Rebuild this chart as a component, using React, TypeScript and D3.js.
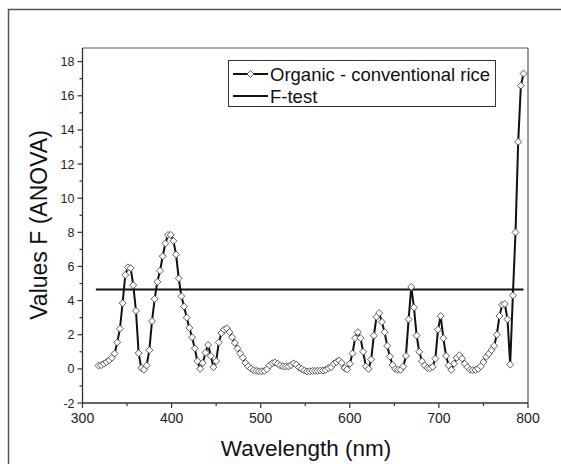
import React from "react";
import * as d3 from "d3";

const startWavelength = 318;
const stepWavelength = 3;
const fValues: number[] = [
  0.19, 0.22, 0.3, 0.4, 0.5, 0.65, 0.9, 1.55, 2.35, 3.85,
  5.5, 5.95, 5.9, 4.9, 3.4, 0.92, 0.05, -0.05, 0.2, 1.1,
  2.8, 4.1, 5.1, 5.75, 6.6, 7.35, 7.85, 7.85, 7.5, 6.7,
  5.3, 4.25, 3.65, 3.0, 2.4, 1.85, 1.2, 0.45, 0.0, 0.35,
  0.95, 1.4, 0.75, 0.1, 0.45, 1.55, 2.1, 2.3, 2.38, 2.15,
  1.85, 1.52, 1.2, 0.9, 0.65, 0.35, 0.15, 0.02, -0.08, -0.12,
  -0.14, -0.14, -0.12, -0.02, 0.2, 0.33, 0.37, 0.3, 0.2, 0.15,
  0.14, 0.15, 0.22, 0.32, 0.25, 0.08, 0.0, -0.1, -0.15, -0.14,
  -0.12, -0.12, -0.11, -0.1, -0.1, -0.06, 0.04, 0.1, 0.3, 0.4,
  0.49, 0.35, 0.05, -0.03, 0.3, 0.9, 1.8, 2.15, 1.8, 1.0,
  0.15, 0.0, 0.55, 1.95, 3.05, 3.27, 2.75, 2.15, 1.35, 0.72,
  0.23, 0.0, -0.05, -0.05, 0.14, 0.76, 2.9, 4.8, 3.6, 1.95,
  1.0, 0.45, 0.2, 0.05, 0.04, 0.12, 0.6, 2.3, 3.1, 1.8,
  0.76, 0.2, -0.05, 0.3, 0.65, 0.8, 0.6, 0.3, 0.1, -0.05,
  -0.07, -0.06, 0.0, 0.15, 0.4, 0.7, 0.88, 1.1, 1.35, 2.0,
  3.1, 3.75, 3.8, 2.9, 0.25, 4.3, 8.0, 13.3, 16.6, 17.3,
];
const fTestValue = 4.65;
const fTestRange = [315, 795];
const xTicks = [300, 400, 500, 600, 700, 800];
const yTicks = [-2, 0, 2, 4, 6, 8, 10, 12, 14, 16, 18];
const seriesName = "Organic - conventional rice";
const fTestName = "F-test";

export default function App() {
  const W = 561, H = 464;
  const x = d3.scaleLinear().domain([300, 800]).range([82.5, 528]);
  const y = d3.scaleLinear().domain([-2, 18.8]).range([403, 48]);
  const pts = fValues.map((v, i) => ({ wl: startWavelength + i * stepWavelength, v }));
  const line = d3.line<{ wl: number; v: number }>().x(d => x(d.wl)).y(d => y(d.v));
  const diamond = (cx: number, cy: number, r = 3.5) =>
    `M${cx},${cy - r}L${cx + r},${cy}L${cx},${cy + r}L${cx - r},${cy}Z`;
  const xMinor = d3.range(350, 800, 100);
  const yMinor = d3.range(-1, 18.5, 2);
  const font = "Arial, 'Liberation Sans', sans-serif";
  const [x0, x1] = x.range();
  const [y0, y1] = y.range();
  return (
    <svg width={W} height={H} style={{ position: "absolute", left: 0, top: 0 }} fontFamily={font}>
      <rect x={0} y={0} width={W} height={H} fill="#fff" />
      <rect x={8.5} y={9.5} width={600} height={500} fill="none" stroke="#555" strokeWidth={1.5} />
      <line x1={x0} y1={y1} x2={x1} y2={y1} stroke="#555" strokeWidth={1.2} />
      <line x1={x1} y1={y1} x2={x1} y2={y0} stroke="#555" strokeWidth={1.2} />
      <line x1={x0} y1={y0} x2={x1} y2={y0} stroke="#333" strokeWidth={1.3} />
      <line x1={x0} y1={y1} x2={x0} y2={y0} stroke="#333" strokeWidth={1.3} />
      {xTicks.map(t => (
        <g key={"xt" + t}>
          <line x1={x(t)} x2={x(t)} y1={y0} y2={y0 + 5} stroke="#333" strokeWidth={1.2} />
          <text x={x(t)} y={y0 + 20} textAnchor="middle" fontSize={14} fill="#222">{t}</text>
        </g>
      ))}
      {xMinor.map(t => (
        <line key={"xm" + t} x1={x(t)} x2={x(t)} y1={y0} y2={y0 + 3} stroke="#333" strokeWidth={1.2} />
      ))}
      {yTicks.map(t => (
        <g key={"yt" + t}>
          <line x1={x0 - 5} x2={x0} y1={y(t)} y2={y(t)} stroke="#333" strokeWidth={1.2} />
          <text x={x0 - 8} y={y(t) + 4.5} textAnchor="end" fontSize={12.5} fill="#222">{t}</text>
        </g>
      ))}
      {yMinor.map(t => (
        <line key={"ym" + t} x1={x0 - 3} x2={x0} y1={y(t)} y2={y(t)} stroke="#333" strokeWidth={1.2} />
      ))}
      <text x={306} y={456} textAnchor="middle" fontSize={22.5} fill="#111">Wavelength (nm)</text>
      <text transform={`translate(47,225) rotate(-90)`} textAnchor="middle" fontSize={23} fill="#111">Values F (ANOVA)</text>
      <line x1={x(fTestRange[0])} x2={x(fTestRange[1])} y1={y(fTestValue)} y2={y(fTestValue)} stroke="#111" strokeWidth={2} />
      <path d={line(pts) || ""} fill="none" stroke="#111" strokeWidth={2} strokeLinejoin="round" />
      {pts.map((p, i) => (
        <path key={"m" + i} d={diamond(x(p.wl), y(p.v))} fill="#fff" stroke="#333" strokeWidth={0.8} />
      ))}
      <rect x={228.5} y={60.5} width={267} height={46} fill="#fff" stroke="#333" strokeWidth={1} />
      <line x1={233} x2={268} y1={74} y2={74} stroke="#111" strokeWidth={2} />
      <path d={diamond(250.5, 74)} fill="#fff" stroke="#333" strokeWidth={0.8} />
      <text x={270} y={80.5} fontSize={18.5} fill="#111">{seriesName}</text>
      <line x1={233} x2={268} y1={96} y2={96} stroke="#111" strokeWidth={2} />
      <text x={270} y={102.5} fontSize={18.5} fill="#111">{fTestName}</text>
    </svg>
  );
}
